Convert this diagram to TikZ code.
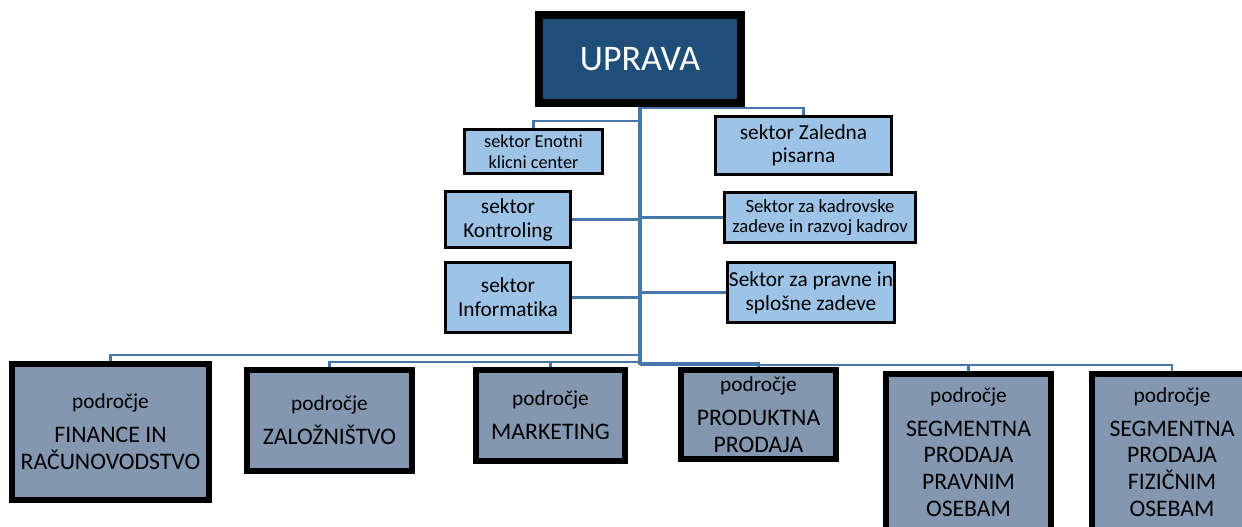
\documentclass[tikz,border=0pt]{standalone}
\usepackage{fontspec}
\setmainfont{Carlito}[Ligatures=NoCommon]
\usetikzlibrary{positioning, calc}
\definecolor{headfill}{RGB}{31, 78, 121}
\definecolor{sectorfill}{RGB}{157, 195, 230}
\definecolor{areafill}{RGB}{132, 151, 176}
\definecolor{linkblue}{RGB}{70, 118, 170}

\begin{document}
\begin{tikzpicture}[
    x=0.75pt, y=-0.75pt,
    head/.style={
        rectangle, draw=black, line width=6pt, fill=headfill,
        text=white, minimum width=151.5pt, minimum height=66pt,
        font=\fontsize{27}{32}\selectfont
    },
    sector/.style={
        rectangle, draw=black, line width=2pt, fill=sectorfill,
        align=center, inner sep=1pt
    },
    area/.style={
        rectangle, draw=black, line width=4.3pt, fill=areafill,
        align=center, inner sep=1pt,
        font=\fontsize{17.8}{20}\selectfont
    },
    conn/.style={linkblue, line width=1.6pt},
    trunk/.style={linkblue, line width=2.3pt}
]

    \clip (0,0) rectangle (1242,527);

    % uprava
    \node[head] (upr) at (640,59) {UPRAVA};

    \coordinate (jZal) at (640,108);
    \coordinate (jEno) at (640,121);
    \coordinate (jFin) at (640,355);
    \coordinate (jLeft) at (640,362);
    \coordinate (jProd) at (640,363);
    \coordinate (jSeg) at (640,365);

    % sektorji
    \node[sector, minimum width=103.5pt, minimum height=33pt,
          font=\fontsize{13.7}{15.75}\selectfont] (eno) at (533.5,151.5)
          {sektor Enotni\\klicni center};
    \node[sector, minimum width=132pt, minimum height=43.5pt,
          font=\fontsize{16}{17.3}\selectfont] (zal) at (803.5,145.5)
          {sektor Zaledna\\pisarna};
    \node[sector, minimum width=94pt, minimum height=42pt,
          font=\fontsize{16}{18}\selectfont] (kon) at (508,219.5)
          {sektor\\Kontroling};
    \node[sector, minimum width=143pt, minimum height=37.5pt,
          font=\fontsize{14}{15}\selectfont] (kad) at (820,217.5)
          {Sektor za kadrovske\\zadeve in razvoj kadrov};
    \node[sector, minimum width=94pt, minimum height=52.5pt,
          font=\fontsize{16}{18}\selectfont] (inf) at (508,297.5)
          {sektor\\Informatika};
    \node[sector, minimum width=125pt, minimum height=45pt,
          font=\fontsize{16}{17.8}\selectfont] (prav) at (811,292.5)
          {Sektor za pravne in\\splošne zadeve};

    % podrocja
    \node[area, minimum width=148pt, minimum height=102pt] (fin) at (110.5,432)
          {{\fontsize{16}{20}\selectfont področje}\\[5.5pt]FINANCE IN\\RAČUNOVODSTVO};
    \node[area, minimum width=124pt, minimum height=76pt] (zalo) at (329.5,420.5)
          {{\fontsize{16}{20}\selectfont področje}\\[5.5pt]ZALOŽNIŠTVO};
    \node[area, minimum width=112pt, minimum height=68pt] (mkt) at (550.5,415.5)
          {{\fontsize{16}{20}\selectfont področje}\\[5.5pt]MARKETING};
    \node[area, minimum width=116pt, minimum height=67pt] (prod) at (758.5,414.5)
          {{\fontsize{16}{20}\selectfont področje}\\[5.5pt]PRODUKTNA\\PRODAJA};
    \node[area, minimum width=123.75pt, minimum height=117pt] (segp) at (968.5,452)
          {{\fontsize{16}{20}\selectfont področje}\\[5.5pt]SEGMENTNA\\PRODAJA\\PRAVNIM\\OSEBAM};
    \node[area, minimum width=120pt, minimum height=117pt] (segf) at (1172,452)
          {{\fontsize{16}{20}\selectfont področje}\\[5.5pt]SEGMENTNA\\PRODAJA\\FIZIČNIM\\OSEBAM};

    % povezave
    \draw[trunk] (upr.south) -- (jSeg);
    \draw[conn] (jZal) -| (zal.north);
    \draw[conn] (jEno) -| (eno.north);
    \draw[conn] (kon.east) -- (kon.east -| jSeg);
    \draw[conn] (inf.east) -- (inf.east -| jSeg);
    \draw[conn] (kad.west) -- (kad.west -| jSeg);
    \draw[conn] (prav.west) -- (prav.west -| jSeg);

    \draw[conn] (jFin) -| (fin.north);
    \draw[conn] (jLeft) -| (zalo.north);
    \draw[conn] (jLeft) -| (mkt.north);
    \draw[conn] (jProd) -| (prod.north);
    \draw[conn] (jSeg) -| (segp.north);
    \draw[conn] (jSeg) -| (segf.north);
\end{tikzpicture}
\end{document}
